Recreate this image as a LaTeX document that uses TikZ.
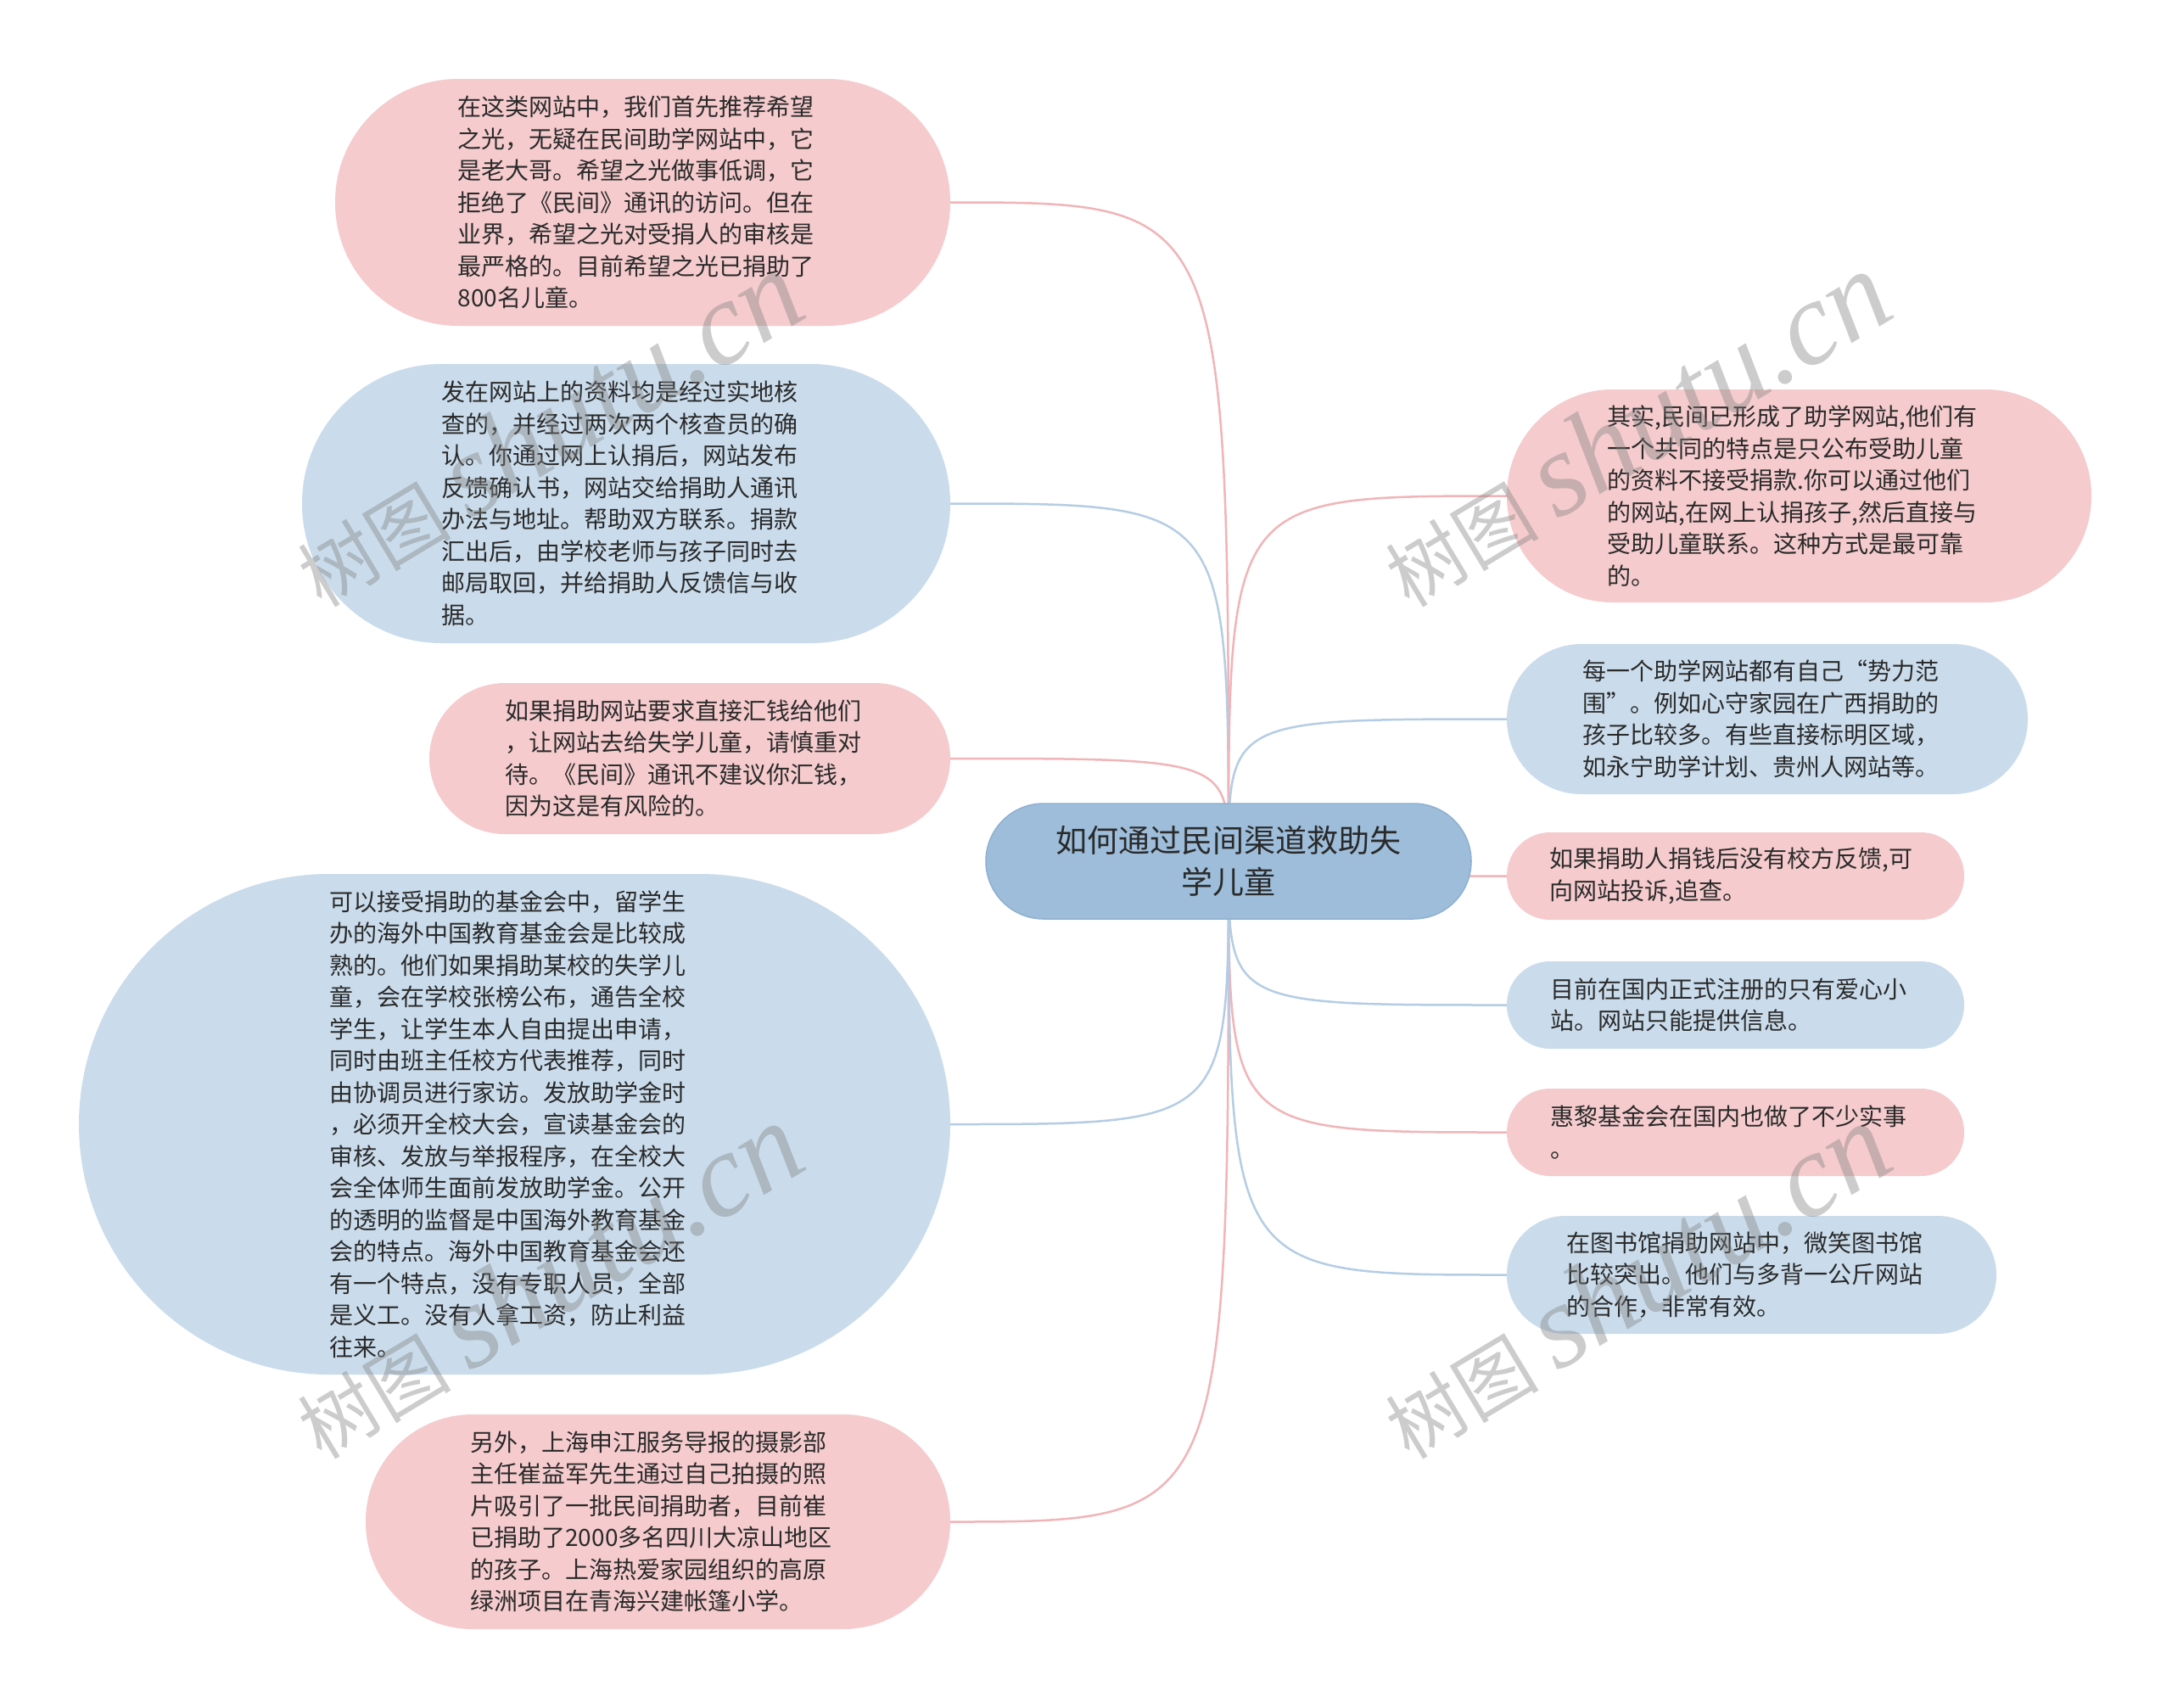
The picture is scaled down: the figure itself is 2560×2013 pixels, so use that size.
\documentclass[tikz,border=0pt]{standalone}
\usepackage{fontspec}
\setmainfont{Noto Sans CJK SC}
\newfontfamily\wmlatin{Liberation Serif}
\definecolor{pinkfill}{HTML}{F5CBCD}
\definecolor{bluefill}{HTML}{CADCEC}
\definecolor{rootfill}{HTML}{9DBDDA}
\definecolor{rootdraw}{HTML}{8EB0D0}
\definecolor{pinkline}{HTML}{F0B5B8}
\definecolor{blueline}{HTML}{B5CDE4}
\definecolor{txt}{HTML}{2A2A2A}
\pgfdeclarelayer{bg}
\pgfsetlayers{bg,main}
\tikzset{
  shapebox/.style={rectangle, inner sep=0pt},
  pinkbox/.style={shapebox, fill=pinkfill},
  bluebox/.style={shapebox, fill=bluefill},
  txtbox/.style={inner sep=0pt, align=left, text=txt,
    font={\fontsize{28pt}{37.5pt}\selectfont}},
  rootbox/.style={rectangle, inner sep=0pt, align=center, text=txt, fill=rootfill,
    draw=rootdraw, line width=1.5pt, font={\fontsize{37pt}{49pt}\selectfont}},
  pinkconn/.style={draw=pinkline, line width=2.5pt},
  blueconn/.style={draw=blueline, line width=2.5pt},
  wm/.style={text=gray, opacity=0.4, inner sep=0pt}
}
\newcommand{\wmtext}{{\fontsize{90pt}{90pt}\selectfont 树图}\hspace{22pt}{\wmlatin\itshape\fontsize{140pt}{140pt}\selectfont shutu.cn}}
\begin{document}
\begin{tikzpicture}[x=1pt, y=-1pt]
\useasboundingbox (0,0) rectangle (2560,2013);
\begin{pgfonlayer}{bg}
\fill[white] (0,0) rectangle (2560,2013);
\end{pgfonlayer}

\node[rootbox, minimum width=572pt, minimum height=136pt, rounded corners=68pt] (root) at (1448,1015)
  {如何通过民间渠道救助失\\学儿童};

% left side
\node[pinkbox, minimum width=725pt, minimum height=291pt, rounded corners=145pt] (n1) at (757.5,238.5) {};
\node[txtbox] (t1) at ([xshift=-8pt]n1.center)
  {在这类网站中，我们首先推荐希望\\之光，无疑在民间助学网站中，它\\是老大哥。希望之光做事低调，它\\拒绝了《民间》通讯的访问。但在\\业界，希望之光对受捐人的审核是\\最严格的。目前希望之光已捐助了\\800名儿童。};
\node[bluebox, minimum width=764pt, minimum height=329pt, rounded corners=164pt] (n2) at (738,593.5) {};
\node[txtbox] (t2) at ([xshift=-8pt]n2.center)
  {发在网站上的资料均是经过实地核\\查的，并经过两次两个核查员的确\\认。你通过网上认捐后，网站发布\\反馈确认书，网站交给捐助人通讯\\办法与地址。帮助双方联系。捐款\\汇出后，由学校老师与孩子同时去\\邮局取回，并给捐助人反馈信与收\\据。};
\node[pinkbox, minimum width=614pt, minimum height=178pt, rounded corners=89pt] (n3) at (813,894) {};
\node[txtbox] (t3) at ([xshift=-8pt]n3.center)
  {如果捐助网站要求直接汇钱给他们\\，让网站去给失学儿童，请慎重对\\待。《民间》通讯不建议你汇钱，\\因为这是有风险的。};
\node[bluebox, minimum width=1027pt, minimum height=590pt, rounded corners=295pt] (n4) at (606.5,1325) {};
\node[txtbox] (t4) at ([xshift=-8pt]n4.center)
  {可以接受捐助的基金会中，留学生\\办的海外中国教育基金会是比较成\\熟的。他们如果捐助某校的失学儿\\童，会在学校张榜公布，通告全校\\学生，让学生本人自由提出申请，\\同时由班主任校方代表推荐，同时\\由协调员进行家访。发放助学金时\\，必须开全校大会，宣读基金会的\\审核、发放与举报程序，在全校大\\会全体师生面前发放助学金。公开\\的透明的监督是中国海外教育基金\\会的特点。海外中国教育基金会还\\有一个特点，没有专职人员，全部\\是义工。没有人拿工资，防止利益\\往来。};
\node[pinkbox, minimum width=689pt, minimum height=253pt, rounded corners=126pt] (n5) at (775.5,1793.5) {};
\node[txtbox] (t5) at ([xshift=-8pt]n5.center)
  {另外，上海申江服务导报的摄影部\\主任崔益军先生通过自己拍摄的照\\片吸引了一批民间捐助者，目前崔\\已捐助了2000多名四川大凉山地区\\的孩子。上海热爱家园组织的高原\\绿洲项目在青海兴建帐篷小学。};

% right side
\node[pinkbox, minimum width=689pt, minimum height=251pt, rounded corners=125pt] (n6) at (2120.5,584.5) {};
\node[txtbox] (t6) at ([xshift=-8pt]n6.center)
  {其实,民间已形成了助学网站,他们有\\一个共同的特点是只公布受助儿童\\的资料不接受捐款.你可以通过他们\\的网站,在网上认捐孩子,然后直接与\\受助儿童联系。这种方式是最可靠\\的。};
\node[bluebox, minimum width=614pt, minimum height=177pt, rounded corners=88pt] (n7) at (2083,847.5) {};
\node[txtbox] (t7) at ([xshift=-8pt]n7.center)
  {每一个助学网站都有自己“势力范\\围”。例如心守家园在广西捐助的\\孩子比较多。有些直接标明区域，\\如永宁助学计划、贵州人网站等。};
\node[pinkbox, minimum width=539pt, minimum height=103pt, rounded corners=51pt] (n8) at (2045.5,1032.5) {};
\node[txtbox] (t8) at ([xshift=-5pt]n8.center)
  {如果捐助人捐钱后没有校方反馈,可\\向网站投诉,追查。};
\node[bluebox, minimum width=539pt, minimum height=103pt, rounded corners=51pt] (n9) at (2045.5,1184.5) {};
\node[txtbox] (t9) at ([xshift=-8pt]n9.center)
  {目前在国内正式注册的只有爱心小\\站。网站只能提供信息。};
\node[pinkbox, minimum width=539pt, minimum height=103pt, rounded corners=51pt] (n10) at (2045.5,1334.5) {};
\node[txtbox] (t10) at ([xshift=-8pt]n10.center)
  {惠黎基金会在国内也做了不少实事\\。};
\node[bluebox, minimum width=577pt, minimum height=139pt, rounded corners=69pt] (n11) at (2064.5,1502.5) {};
\node[txtbox] (t11) at ([xshift=-8pt]n11.center)
  {在图书馆捐助网站中，微笑图书馆\\比较突出。他们与多背一公斤网站\\的合作，非常有效。};

\begin{pgfonlayer}{bg}
\draw[pinkconn] (root.center) .. controls (root.center |- n1.east) .. (n1.east);
\draw[blueconn] (root.center) .. controls (root.center |- n2.east) .. (n2.east);
\draw[pinkconn] (root.center) .. controls (root.center |- n3.east) .. (n3.east);
\draw[blueconn] (root.center) .. controls (root.center |- n4.east) .. (n4.east);
\draw[pinkconn] (root.center) .. controls (root.center |- n5.east) .. (n5.east);
\draw[pinkconn] (root.center) .. controls (root.center |- n6.west) .. (n6.west);
\draw[blueconn] (root.center) .. controls (root.center |- n7.west) .. (n7.west);
\draw[pinkconn] (root.center) .. controls (root.center |- n8.west) .. (n8.west);
\draw[blueconn] (root.center) .. controls (root.center |- n9.west) .. (n9.west);
\draw[pinkconn] (root.center) .. controls (root.center |- n10.west) .. (n10.west);
\draw[blueconn] (root.center) .. controls (root.center |- n11.west) .. (n11.west);
\end{pgfonlayer}

% watermarks
\node[wm, rotate=31] (wm1) at (645,506) {\wmtext};
\node[wm, rotate=31] (wm2) at (1927,506) {\wmtext};
\node[wm, rotate=31] (wm3) at (645,1510) {\wmtext};
\node[wm, rotate=31] (wm4) at (1927,1510) {\wmtext};
\end{tikzpicture}
\end{document}
